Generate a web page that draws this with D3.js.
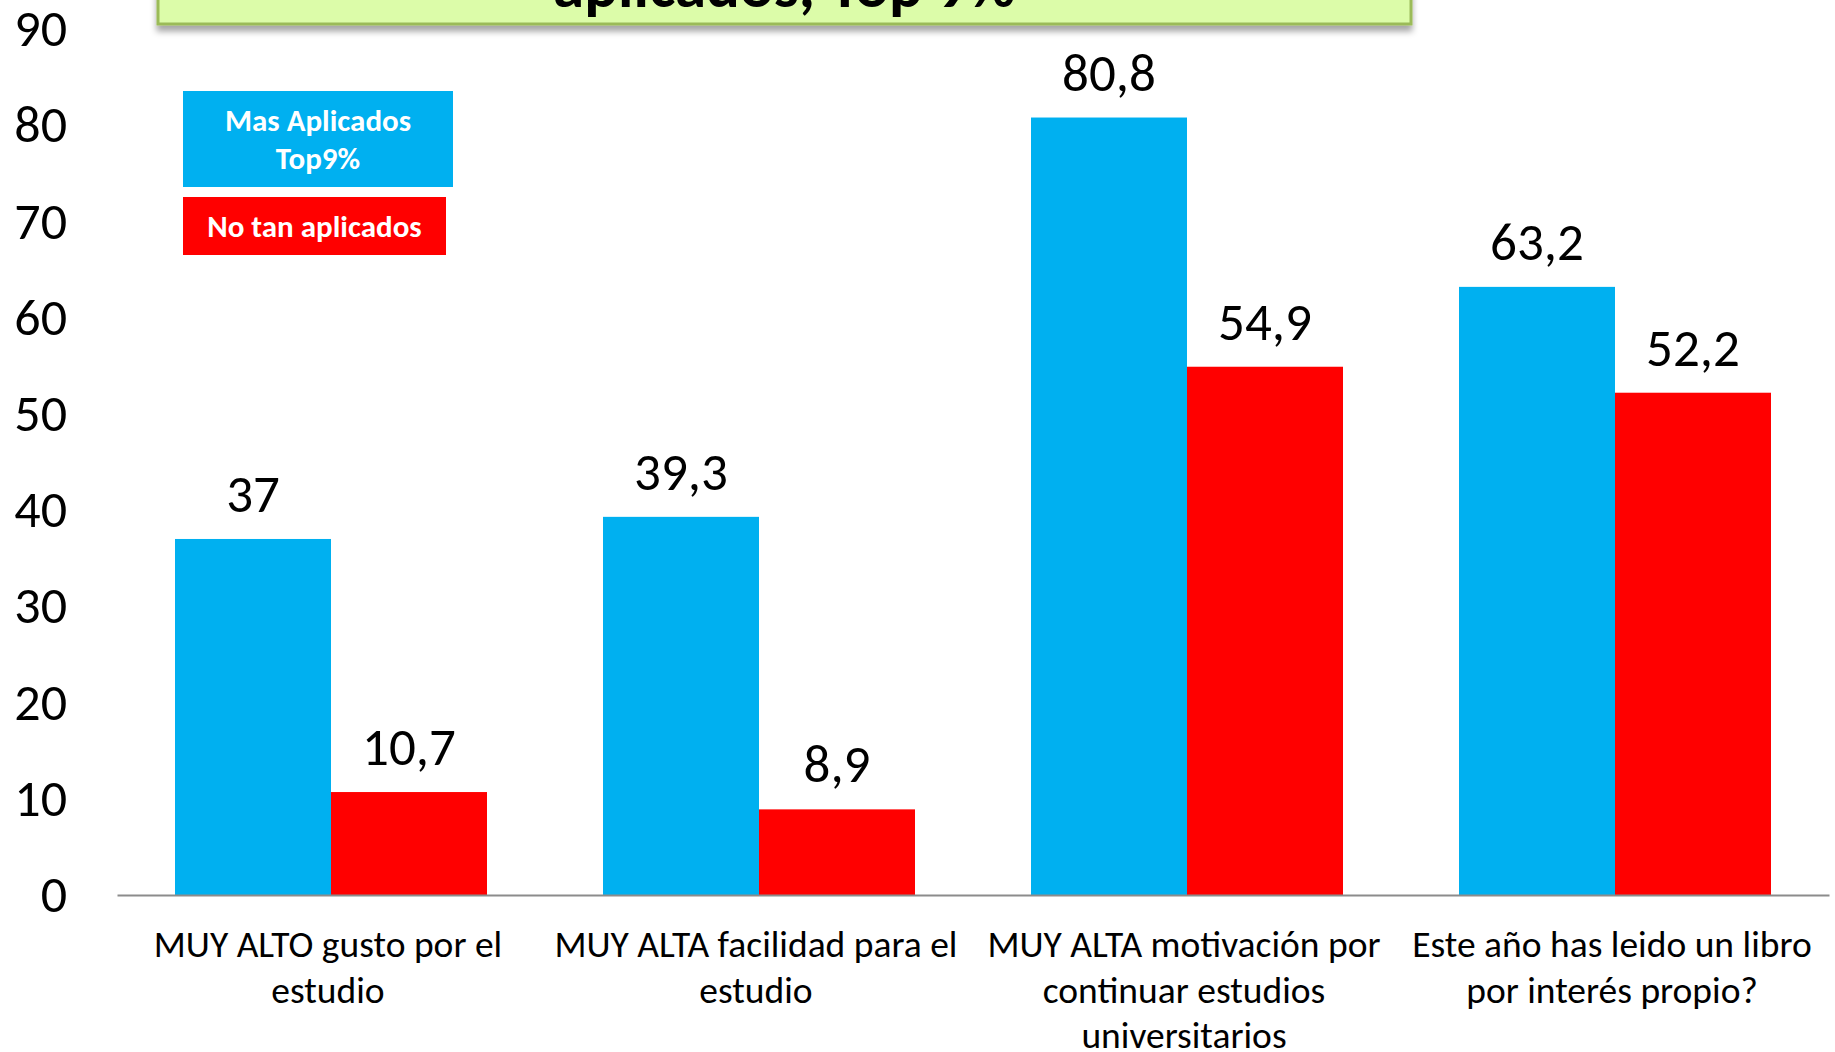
<!DOCTYPE html>
<html>
<head>
<meta charset="utf-8">
<script src="https://cdn.jsdelivr.net/npm/d3@7"></script>
<style>
  html, body { margin: 0; padding: 0; background: #fff; }
  svg { display: block; }
  text { font-family: Carlito, Lato, "Open Sans", sans-serif; }
</style>
</head>
<body>
<svg id="chart" width="1835" height="1052"></svg>
<script>
// ---- data ----
const categories = [
  ["MUY ALTO gusto por el", "estudio"],
  ["MUY ALTA facilidad para el", "estudio"],
  ["MUY ALTA motivación por", "continuar estudios", "universitarios"],
  ["Este año has leido un libro", "por interés propio?"]
];
const seriesNames = ["Mas Aplicados Top9%", "No tan aplicados"];
const masAplicados = [37, 39.3, 80.8, 63.2];
const noTanAplicados = [10.7, 8.9, 54.9, 52.2];
const yTicks = [0, 10, 20, 30, 40, 50, 60, 70, 80, 90];
const legendLabels = [["Mas Aplicados", "Top9%"], ["No tan aplicados"]];
const titleText = "aplicados, Top 9%";
const colors = ["#00b0f0", "#ff0000"];

const svg = d3.select("#chart");
const plot = { left: 117, right: 1829, top: 29, bottom: 895 };

const catIdx = categories.map((d, i) => i);
const x0 = d3.scaleBand().domain(catIdx).range([plot.left, plot.right]).padding(0);
const x1 = d3.scaleBand().domain([0, 1])
  .range([(x0.bandwidth() - 312) / 2, (x0.bandwidth() + 312) / 2]).padding(0);
const y = d3.scaleLinear().domain([0, 90]).range([plot.bottom, plot.top]);

const defs = svg.append("defs");
const f = defs.append("filter").attr("id", "shadow").attr("x", "-5%").attr("y", "-50%").attr("width", "110%").attr("height", "200%");
f.append("feDropShadow").attr("dx", 0).attr("dy", 6).attr("stdDeviation", 3).attr("flood-color", "#000").attr("flood-opacity", 0.35);

// title box (cut off at the top edge, as in the reference)
svg.append("rect")
  .attr("x", 158).attr("y", -80).attr("width", 1253).attr("height", 104)
  .attr("fill", "#dcfca9").attr("stroke", "#9bbb59").attr("stroke-width", 3)
  .attr("filter", "url(#shadow)");
svg.append("text")
  .attr("x", 784).attr("y", 7)
  .attr("text-anchor", "middle")
  .attr("font-size", 63).attr("font-weight", "bold").attr("fill", "#000")
  .text(titleText);

// y axis labels
const yAxis = d3.axisLeft(y).tickValues(yTicks).tickSize(0).tickPadding(0).tickFormat(d3.format("d"));
const ya = svg.append("g").attr("transform", "translate(67,0)").call(yAxis);
ya.select(".domain").remove();
ya.selectAll("text")
  .attr("font-size", 52).attr("fill", "#000")
  .style("font-family", "Carlito, Lato, 'Open Sans', sans-serif");

// bars
const fmt = v => String(v).replace(".", ",");
const groups = svg.append("g").selectAll("g")
  .data(catIdx).join("g")
  .attr("transform", i => `translate(${x0(i)},0)`);

groups.selectAll("rect")
  .data(i => [masAplicados[i], noTanAplicados[i]].map((v, s) => ({ v, s })))
  .join("rect")
  .attr("x", d => x1(d.s))
  .attr("width", x1.bandwidth())
  .attr("y", d => y(d.v))
  .attr("height", d => y(0) - y(d.v))
  .attr("fill", d => colors[d.s]);

groups.selectAll("text.val")
  .data(i => [masAplicados[i], noTanAplicados[i]].map((v, s) => ({ v, s })))
  .join("text")
  .attr("class", "val")
  .attr("x", d => x1(d.s) + x1.bandwidth() / 2)
  .attr("y", d => y(d.v) - 27)
  .attr("text-anchor", "middle")
  .attr("font-size", 53).attr("fill", "#000")
  .text(d => fmt(d.v));

// baseline axis
const xAxis = d3.axisBottom(x0).tickSize(0).tickFormat("");
const xa = svg.append("g").attr("transform", `translate(0,${plot.bottom})`).call(xAxis);
xa.select(".domain").attr("stroke", "#8c8c8c").attr("stroke-width", 2);

// category labels
svg.append("g").selectAll("text")
  .data(catIdx).join("text")
  .attr("text-anchor", "middle")
  .attr("font-size", 37.5).attr("fill", "#000")
  .each(function (i) {
    const t = d3.select(this);
    categories[i].forEach((line, k) => {
      t.append("tspan")
        .attr("x", x0(i) + x0.bandwidth() / 2 - 3)
        .attr("y", 957 + k * 45.5)
        .text(line);
    });
  });

// legend
const legendBoxes = [
  { x: 183, y: 91, w: 270, h: 96 },
  { x: 183, y: 197, w: 263, h: 58 }
];
const lg = svg.append("g").selectAll("g").data(legendLabels).join("g");
lg.append("rect")
  .attr("x", (d, i) => legendBoxes[i].x).attr("y", (d, i) => legendBoxes[i].y)
  .attr("width", (d, i) => legendBoxes[i].w).attr("height", (d, i) => legendBoxes[i].h)
  .attr("fill", (d, i) => colors[i]);
lg.append("text")
  .attr("text-anchor", "middle")
  .attr("font-size", 31).attr("font-weight", "bold").attr("fill", "#fff")
  .each(function (d, i) {
    const b = legendBoxes[i];
    const n = d.length;
    d.forEach((line, k) => {
      d3.select(this).append("tspan")
        .attr("x", b.x + b.w / 2)
        .attr("y", b.y + b.h / 2 + (k - (n - 1) / 2) * 38 + 11)
        .text(line);
    });
  });
</script>
</body>
</html>
